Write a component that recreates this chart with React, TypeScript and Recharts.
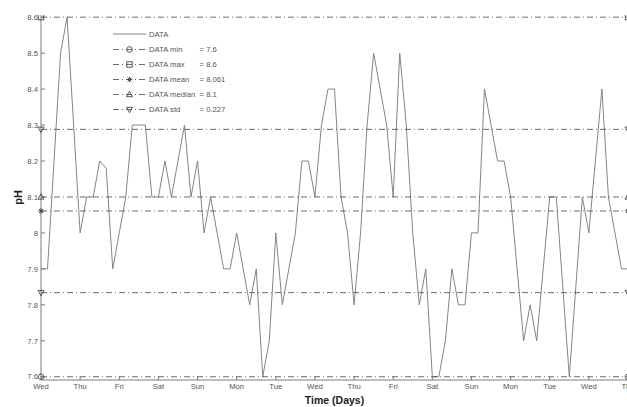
import React from 'react';
import { LineChart, Line, XAxis, YAxis, Legend, Label } from 'recharts';

// pH reading every 4 hours, starting Wednesday 00:00
const SAMPLE_HOURS = 4;
const PH = [
  7.9, 7.9, 8.2, 8.5, 8.6, 8.3, 8.0, 8.1, 8.1, 8.2,
  8.18, 7.9, 8.0, 8.1, 8.3, 8.3, 8.3, 8.1, 8.1, 8.2,
  8.1, 8.2, 8.3, 8.1, 8.2, 8.0, 8.1, 8.0, 7.9, 7.9,
  8.0, 7.9, 7.8, 7.9, 7.6, 7.7, 8.0, 7.8, 7.9, 8.0,
  8.2, 8.2, 8.1, 8.3, 8.4, 8.4, 8.1, 8.0, 7.8, 8.0,
  8.3, 8.5, 8.4, 8.3, 8.1, 8.5, 8.3, 8.0, 7.8, 7.9,
  7.6, 7.6, 7.7, 7.9, 7.8, 7.8, 8.0, 8.0, 8.4, 8.3,
  8.2, 8.2, 8.1, 7.9, 7.7, 7.8, 7.7, 7.9, 8.1, 8.1,
  7.85, 7.6, 7.85, 8.1, 8.0, 8.2, 8.4, 8.1, 8.0, 7.9,
  7.9,
];

const DAY_LABELS = ['Wed', 'Thu', 'Fri', 'Sat', 'Sun', 'Mon', 'Tue', 'Wed', 'Thu', 'Fri', 'Sat', 'Sun', 'Mon', 'Tue', 'Wed', 'Thu'];
const X_TICKS = DAY_LABELS.map((_, i) => i * 24);
const Y_TICKS = [7.6, 7.7, 7.8, 7.9, 8.0, 8.1, 8.2, 8.3, 8.4, 8.5, 8.6];

// stats from the legend
const STAT_MIN = 7.6;
const STAT_MAX = 8.6;
const STAT_MEAN = 8.061;
const STAT_MEDIAN = 8.1;
const STAT_STD = 0.227;

const data = PH.map((v, i) => ({
  t: i * SAMPLE_HOURS,
  ph: v,
  min: STAT_MIN,
  max: STAT_MAX,
  mean: STAT_MEAN,
  median: STAT_MEDIAN,
  stdHi: STAT_MEAN + STAT_STD,
  stdLo: STAT_MEAN - STAT_STD,
}));

const FONT = '"Liberation Sans", Arial, sans-serif';
const TEXT = '#555';
const AXIS = '#7a7a7a';
const DATA_COLOR = '#858585';
const REF_COLOR = '#444';
const DASH = '6 3 1 3';
const Y_DOMAIN = [7.591, 8.606];

type MarkerKind = 'circle' | 'square' | 'star' | 'up' | 'down';

const marker = (kind: MarkerKind, cx: number, cy: number, key?: any) => {
  const s = { stroke: REF_COLOR, strokeWidth: 0.9, fill: 'none' };
  if (kind === 'circle') return <circle key={key} cx={cx} cy={cy} r={2.8} {...s} />;
  if (kind === 'square') return <rect key={key} x={cx - 2.7} y={cy - 2.7} width={5.4} height={5.4} {...s} />;
  if (kind === 'up')
    return <polygon key={key} points={`${cx},${cy - 3.2} ${cx - 3},${cy + 2.2} ${cx + 3},${cy + 2.2}`} {...s} />;
  if (kind === 'down')
    return <polygon key={key} points={`${cx},${cy + 3.2} ${cx - 3},${cy - 2.2} ${cx + 3},${cy - 2.2}`} {...s} />;
  const r = 2.8;
  const d = 2;
  return (
    <g key={key} {...s}>
      <line x1={cx - r} y1={cy} x2={cx + r} y2={cy} />
      <line x1={cx} y1={cy - r} x2={cx} y2={cy + r} />
      <line x1={cx - d} y1={cy - d} x2={cx + d} y2={cy + d} />
      <line x1={cx - d} y1={cy + d} x2={cx + d} y2={cy - d} />
    </g>
  );
};

// markers only at both ends of each stat line
const endDot = (kind: MarkerKind) => (p: any) => {
  if (p.index === 0 || p.index === data.length - 1) return marker(kind, p.cx, p.cy, p.index);
  return <g key={p.index} />;
};

const LEGEND_ROWS: { name: string; value: string; kind: MarkerKind }[] = [
  { name: 'DATA min', value: '= 7.6', kind: 'circle' },
  { name: 'DATA max', value: '= 8.6', kind: 'square' },
  { name: 'DATA mean', value: '= 8.061', kind: 'star' },
  { name: 'DATA median', value: '= 8.1', kind: 'up' },
  { name: 'DATA std', value: '= 0.227', kind: 'down' },
];

const renderLegend = () => (
  <svg width={130} height={90} style={{ display: 'block' }}>
    <line x1={3} x2={36} y1={7} y2={7} stroke={DATA_COLOR} strokeWidth={1} />
    <text x={39} y={7} dy="0.35em" fontSize={7.7} fill={TEXT} fontFamily={FONT}>DATA</text>
    {LEGEND_ROWS.map((r, i) => {
      const y = 22.5 + i * 15;
      return (
        <g key={r.name}>
          <line x1={3} x2={36} y1={y} y2={y} stroke={REF_COLOR} strokeWidth={0.8} strokeDasharray={DASH} />
          {marker(r.kind, 19.5, y)}
          <text x={39} y={y} dy="0.35em" fontSize={7.7} fill={TEXT} fontFamily={FONT}>{r.name}</text>
          <text x={89.5} y={y} dy="0.35em" fontSize={7.7} fill={TEXT} fontFamily={FONT}>{r.value}</text>
        </g>
      );
    })}
  </svg>
);

const tickStyle = { fontSize: 7.7, fill: TEXT, fontFamily: FONT };

export default function App() {
  return (
    <div style={{ position: 'absolute', left: 0, top: 0, width: 627, height: 407, overflow: 'hidden', background: '#fff' }}>
      <LineChart width={631} height={407} data={data} margin={{ top: 15, right: 3, bottom: 0, left: 0 }}>
        <XAxis
          dataKey="t"
          type="number"
          domain={[0, 360]}
          ticks={X_TICKS}
          tickFormatter={(v) => DAY_LABELS[Math.round(v / 24)]}
          tick={tickStyle}
          tickSize={-4}
          tickMargin={8}
          height={27}
          stroke={AXIS}
          interval={0}
        >
          <Label value="Time (Days)" position="insideBottom" offset={3} style={{ fontSize: 10.5, fontWeight: 'bold', fill: '#222', fontFamily: FONT }} />
        </XAxis>
        <XAxis xAxisId="top" orientation="top" type="number" domain={[0, 360]} ticks={X_TICKS} tick={false} tickSize={-4} height={0} stroke={AXIS} />
        <YAxis
          type="number"
          domain={Y_DOMAIN}
          allowDataOverflow
          ticks={Y_TICKS}
          tick={tickStyle}
          tickSize={-4}
          tickMargin={7}
          width={41}
          stroke={AXIS}
          interval={0}
        >
          <Label value="pH" angle={-90} position="center" dx={-2} style={{ fontSize: 11, fontWeight: 'bold', fill: '#222', fontFamily: FONT }} />
        </YAxis>
        <YAxis yAxisId="right" orientation="right" type="number" domain={Y_DOMAIN} allowDataOverflow ticks={Y_TICKS} tick={false} tickSize={-4} width={0} stroke={AXIS} />
        <Legend
          layout="vertical"
          align="center"
          verticalAlign="middle"
          content={renderLegend}
          wrapperStyle={{ position: 'absolute', left: 110, top: 27, width: 130, height: 90 }}
        />
        <Line dataKey="ph" stroke={DATA_COLOR} strokeWidth={1} dot={false} activeDot={false} isAnimationActive={false} />
        <Line dataKey="min" stroke={REF_COLOR} strokeWidth={0.8} strokeDasharray={DASH} dot={endDot('circle')} activeDot={false} isAnimationActive={false} />
        <Line dataKey="max" stroke={REF_COLOR} strokeWidth={0.8} strokeDasharray={DASH} dot={endDot('square')} activeDot={false} isAnimationActive={false} />
        <Line dataKey="mean" stroke={REF_COLOR} strokeWidth={0.8} strokeDasharray={DASH} dot={endDot('star')} activeDot={false} isAnimationActive={false} />
        <Line dataKey="median" stroke={REF_COLOR} strokeWidth={0.8} strokeDasharray={DASH} dot={endDot('up')} activeDot={false} isAnimationActive={false} />
        <Line dataKey="stdHi" stroke={REF_COLOR} strokeWidth={0.8} strokeDasharray={DASH} dot={endDot('down')} activeDot={false} isAnimationActive={false} />
        <Line dataKey="stdLo" stroke={REF_COLOR} strokeWidth={0.8} strokeDasharray={DASH} dot={endDot('down')} activeDot={false} isAnimationActive={false} />
      </LineChart>
    </div>
  );
}
